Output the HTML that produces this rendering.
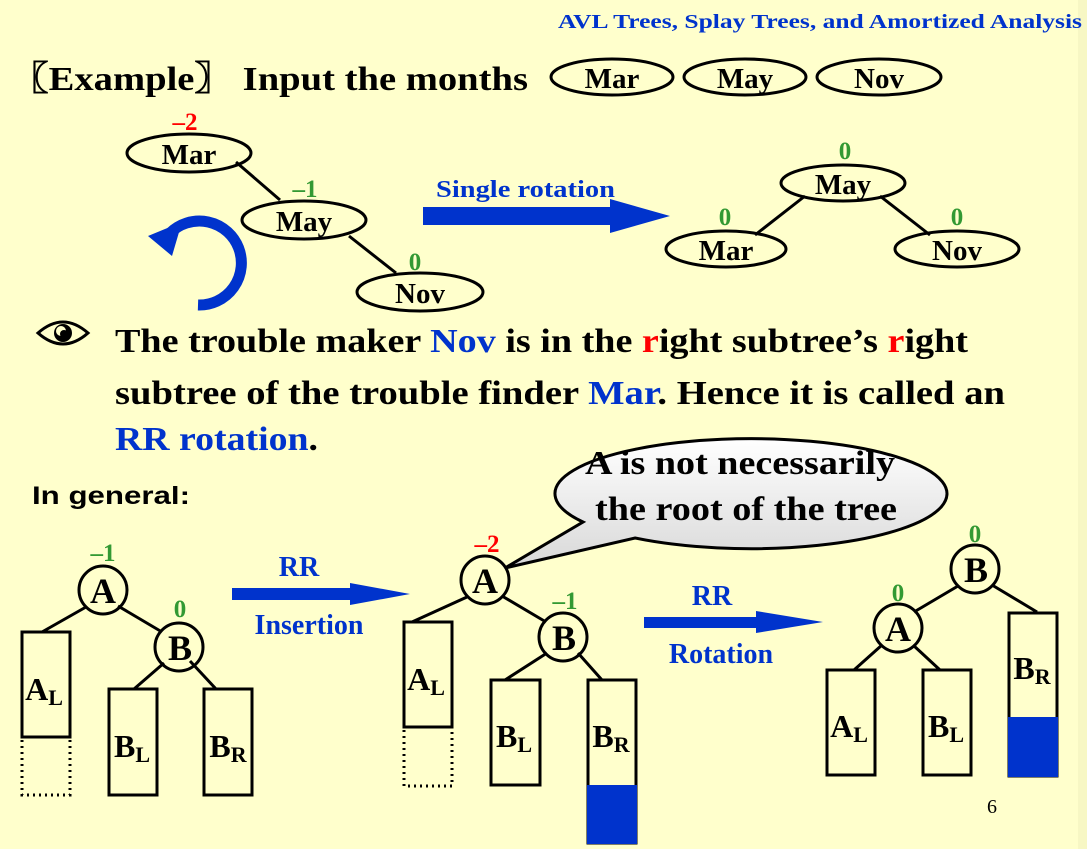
<!DOCTYPE html>
<html><head><meta charset="utf-8"><style>
html,body{margin:0;padding:0;background:#FFFFCC;}
svg{display:block;}
text{font-family:"Liberation Serif",serif;font-weight:bold;}
</style></head><body>
<svg width="1087" height="849" viewBox="0 0 1087 849" xmlns="http://www.w3.org/2000/svg">
<defs>
<linearGradient id="g" x1="0" y1="0" x2="0" y2="1"><stop offset="0" stop-color="#ffffff"/><stop offset="1" stop-color="#d8d8d8"/></linearGradient>
</defs>
<rect width="1087" height="849" fill="#FFFFCC"/>
<rect x="1078" y="0" width="9" height="849" fill="#f7f7c4"/>
<text x="558" y="28" font-size="20" fill="#0033CC" textLength="524" lengthAdjust="spacingAndGlyphs">AVL Trees, Splay Trees, and Amortized Analysis</text>
<text x="10" y="90" font-size="34" fill="#000" textLength="518" lengthAdjust="spacingAndGlyphs">〖Example〗 Input the months</text>
<g fill="none" stroke="#000" stroke-width="3">
<ellipse cx="612" cy="77" rx="61" ry="18"/>
<ellipse cx="745" cy="77" rx="61" ry="18"/>
<ellipse cx="879" cy="77" rx="62" ry="18"/>
</g>
<g font-size="29" text-anchor="middle" fill="#000">
<text x="612" y="88">Mar</text><text x="745" y="88">May</text><text x="879" y="88">Nov</text>
</g>
<!-- tree 1 -->
<g stroke="#000" stroke-width="3" fill="none">
<line x1="236" y1="162" x2="280" y2="200"/>
<line x1="349" y1="236" x2="396" y2="273"/>
<ellipse cx="189" cy="153" rx="62" ry="19"/>
<ellipse cx="304" cy="220" rx="62" ry="19"/>
<ellipse cx="420" cy="292" rx="63" ry="19"/>
</g>
<g font-size="29" text-anchor="middle" fill="#000">
<text x="189" y="164">Mar</text><text x="304" y="231">May</text><text x="420" y="303">Nov</text>
</g>
<text x="185" y="130" font-size="25" fill="#f00" text-anchor="middle">–2</text>
<text x="305" y="197" font-size="25" fill="#339933" text-anchor="middle">–1</text>
<text x="415" y="270" font-size="25" fill="#339933" text-anchor="middle">0</text>
<!-- circular arrow -->
<path d="M198,305 A42,42 0 1 0 170,233" fill="none" stroke="#0033CC" stroke-width="11"/>
<polygon points="148,236 182,222 172,256" fill="#0033CC"/>
<!-- single rotation -->
<text x="436" y="197" font-size="24" fill="#0033CC" textLength="179" lengthAdjust="spacingAndGlyphs">Single rotation</text>
<polygon points="423,207 610,207 610,199 670,216 610,233 610,225 423,225" fill="#0033CC"/>
<g stroke="#000" stroke-width="3" fill="none">
<line x1="805" y1="196" x2="755" y2="235"/>
<line x1="880" y1="196" x2="930" y2="235"/>
<ellipse cx="843" cy="183" rx="62" ry="18"/>
<ellipse cx="726" cy="249" rx="60" ry="18"/>
<ellipse cx="957" cy="249" rx="62" ry="18"/>
</g>
<g font-size="29" text-anchor="middle" fill="#000">
<text x="843" y="194">May</text><text x="726" y="260">Mar</text><text x="957" y="260">Nov</text>
</g>
<g font-size="25" fill="#339933" text-anchor="middle">
<text x="845" y="159">0</text><text x="725" y="225">0</text><text x="957" y="225">0</text>
</g>
<!-- eye -->
<g transform="translate(63,333)">
<path d="M-25,0 Q0,-22 25,0 Q0,22 -25,0 Z" fill="none" stroke="#000" stroke-width="3"/>
<circle cx="0" cy="0" r="9" fill="#000"/>
<circle cx="-2" cy="-2" r="5" fill="#FFFFCC"/>
<circle cx="1" cy="1" r="4" fill="#000"/>
</g>
<g font-size="34" fill="#000">
<text x="115" y="352" textLength="853" lengthAdjust="spacingAndGlyphs">The trouble maker <tspan fill="#0033CC">Nov</tspan> is in the <tspan fill="#f00">r</tspan>ight subtree’s <tspan fill="#f00">r</tspan>ight</text>
<text x="115" y="404" textLength="890" lengthAdjust="spacingAndGlyphs">subtree of the trouble finder <tspan fill="#0033CC">Mar</tspan>.  Hence it is called an</text>
<text x="115" y="450" textLength="203" lengthAdjust="spacingAndGlyphs"><tspan fill="#0033CC">RR rotation</tspan>.</text>
</g>
<text x="32" y="504" font-size="25" fill="#000" style="font-family:'Liberation Sans',sans-serif" textLength="158" lengthAdjust="spacingAndGlyphs">In general:</text>
<!-- bubble -->
<path d="M583,522 A196,55 0 1 1 635,538 L505,568 Z" fill="url(#g)" stroke="#000" stroke-width="3"/>
<g font-size="34" fill="#000">
<text x="585" y="474" textLength="310" lengthAdjust="spacingAndGlyphs">A is not necessarily</text>
<text x="595" y="520" textLength="302" lengthAdjust="spacingAndGlyphs">the root of the tree</text>
</g>
<!-- general tree 1 -->
<g stroke="#000" stroke-width="3" fill="none">
<line x1="86" y1="607" x2="42" y2="632"/>
<line x1="118" y1="606" x2="162" y2="632"/>
<line x1="164" y1="663" x2="134" y2="689"/>
<line x1="190" y1="661" x2="216" y2="689"/>
<circle cx="103" cy="590" r="24"/>
<circle cx="179" cy="647" r="24"/>
<rect x="22" y="632" width="48" height="105"/>
<rect x="109" y="689" width="48" height="106"/>
<rect x="204" y="689" width="48" height="106"/>
<path d="M22,740 V795 H70 V740" stroke-dasharray="2,4"/>
</g>
<g fill="#000" text-anchor="middle">
<text x="103" y="603" font-size="36">A</text>
<text x="180" y="660" font-size="36">B</text>
<text x="44" y="700" font-size="32">A<tspan font-size="22" dy="5">L</tspan></text>
<text x="132" y="757" font-size="32">B<tspan font-size="22" dy="5">L</tspan></text>
<text x="228" y="757" font-size="32">B<tspan font-size="22" dy="5">R</tspan></text>
</g>
<text x="103" y="561" font-size="25" fill="#339933" text-anchor="middle">–1</text>
<text x="180" y="617" font-size="25" fill="#339933" text-anchor="middle">0</text>
<!-- arrow RR insertion -->
<polygon points="232,588 350,588 350,583 410,594 350,605 350,600 232,600" fill="#0033CC"/>
<text x="299" y="576" font-size="28" fill="#0033CC" text-anchor="middle">RR</text>
<text x="309" y="634" font-size="28" fill="#0033CC" text-anchor="middle">Insertion</text>
<!-- tree 2 -->
<g stroke="#000" stroke-width="3" fill="none">
<line x1="467" y1="597" x2="412" y2="622"/>
<line x1="502" y1="596" x2="546" y2="622"/>
<line x1="547" y1="653" x2="505" y2="680"/>
<line x1="578" y1="653" x2="602" y2="680"/>
<circle cx="485" cy="580" r="24"/>
<circle cx="563" cy="637" r="24"/>
<rect x="404" y="622" width="48" height="105"/>
<rect x="491" y="680" width="49" height="105"/>
<rect x="588" y="680" width="48" height="163"/>
<path d="M404,730 V786 H452 V730" stroke-dasharray="2,4"/>
</g>
<rect x="587" y="785" width="50" height="59" fill="#0033CC"/>
<g fill="#000" text-anchor="middle">
<text x="485" y="593" font-size="36">A</text>
<text x="564" y="650" font-size="36">B</text>
<text x="426" y="690" font-size="32">A<tspan font-size="22" dy="5">L</tspan></text>
<text x="514" y="747" font-size="32">B<tspan font-size="22" dy="5">L</tspan></text>
<text x="611" y="747" font-size="32">B<tspan font-size="22" dy="5">R</tspan></text>
</g>
<text x="487" y="552" font-size="25" fill="#f00" text-anchor="middle">–2</text>
<text x="565" y="609" font-size="25" fill="#339933" text-anchor="middle">–1</text>
<!-- arrow RR rotation -->
<polygon points="644,617 756,617 756,611 823,622 756,633 756,628 644,628" fill="#0033CC"/>
<text x="712" y="605" font-size="28" fill="#0033CC" text-anchor="middle">RR</text>
<text x="721" y="663" font-size="28" fill="#0033CC" text-anchor="middle">Rotation</text>
<!-- tree 3 -->
<g stroke="#000" stroke-width="3" fill="none">
<line x1="958" y1="586" x2="914" y2="612"/>
<line x1="992" y1="585" x2="1037" y2="612"/>
<line x1="882" y1="645" x2="854" y2="670"/>
<line x1="913" y1="645" x2="940" y2="670"/>
<circle cx="975" cy="569" r="24"/>
<circle cx="898" cy="628" r="24"/>
<rect x="827" y="670" width="48" height="105"/>
<rect x="923" y="670" width="48" height="105"/>
<rect x="1009" y="613" width="48" height="163"/>
</g>
<rect x="1008" y="717" width="50" height="60" fill="#0033CC"/>
<g fill="#000" text-anchor="middle">
<text x="976" y="582" font-size="36">B</text>
<text x="898" y="641" font-size="36">A</text>
<text x="849" y="737" font-size="32">A<tspan font-size="22" dy="5">L</tspan></text>
<text x="946" y="737" font-size="32">B<tspan font-size="22" dy="5">L</tspan></text>
<text x="1032" y="679" font-size="32">B<tspan font-size="22" dy="5">R</tspan></text>
</g>
<text x="975" y="542" font-size="25" fill="#339933" text-anchor="middle">0</text>
<text x="898" y="601" font-size="25" fill="#339933" text-anchor="middle">0</text>
<text x="992" y="813" font-size="20" fill="#000" text-anchor="middle" style="font-weight:normal">6</text>
</svg>
</body></html>
